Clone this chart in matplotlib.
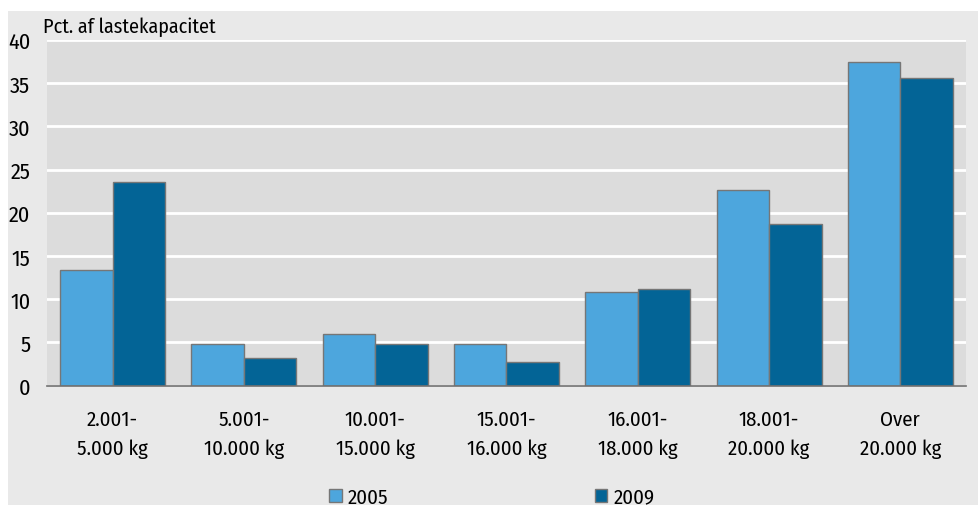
import matplotlib.pyplot as plt
import matplotlib.patches as mpatches
import numpy as np

plt.rcParams['font.family'] = ['Fira Sans Condensed', 'DejaVu Sans']

categories = ['2.001-\n5.000 kg', '5.001-\n10.000 kg', '10.001-\n15.000 kg',
              '15.001-\n16.000 kg', '16.001-\n18.000 kg', '18.001-\n20.000 kg',
              'Over\n20.000 kg']
v2005 = [13.4, 4.8, 6.0, 4.85, 10.8, 22.7, 37.5]
v2009 = [23.6, 3.2, 4.8, 2.8, 11.2, 18.75, 35.65]
yticks = [0, 5, 10, 15, 20, 25, 30, 35, 40]

c2005 = '#4da6dd'
c2009 = '#036496'
edge = '#767676'
fs = 15

fig = plt.figure(figsize=(9.79, 5.06), dpi=100)
fig.patch.set_facecolor('white')
# grey panel behind everything (white strip left and top)
fig.patches.append(mpatches.Rectangle((8/979, 0), 1, (506-12)/506,
                   transform=fig.transFigure, facecolor='#e9e9e9',
                   edgecolor='none', zorder=-10))

ax = fig.add_axes([47/979, (506-386.7)/506, (966-47)/979, (386.7-41)/506])
ax.set_facecolor('#dcdcdc')

x = np.arange(len(categories))
w = 0.4
ax.bar(x - w/2, v2005, w, color=c2005, edgecolor=edge, linewidth=1, label='2005', zorder=3)
ax.bar(x + w/2, v2009, w, color=c2009, edgecolor=edge, linewidth=1, label='2009', zorder=3)

ax.set_xlim(-0.5, len(categories) - 0.5)
ax.set_ylim(0, 40)
ax.set_yticks(yticks)
ax.set_xticks(x)
ax.set_xticklabels(categories, linespacing=1.65)
ax.tick_params(axis='both', length=0, colors='black')
ax.tick_params(axis='x', labelsize=fs, pad=17)
ax.tick_params(axis='y', labelsize=16, pad=12)
ax.grid(axis='y', color='white', linewidth=2, zorder=1)
for s in ['top', 'right', 'left']:
    ax.spines[s].set_visible(False)
ax.spines['bottom'].set_color('#707070')
ax.spines['bottom'].set_linewidth(1.2)
ax.spines['bottom'].set_zorder(4)

fig.text(43/979, (506-27)/506, 'Pct. af lastekapacitet', fontsize=14.5, va='center', ha='left')

fig.legend(loc='center', bbox_to_anchor=(492/979, 8/506), ncol=2, frameon=False,
           fontsize=fs, handlelength=0.6, handleheight=0.6, handletextpad=0.3,
           columnspacing=9.9, borderpad=0)

fig.savefig('out.png', dpi=100)
